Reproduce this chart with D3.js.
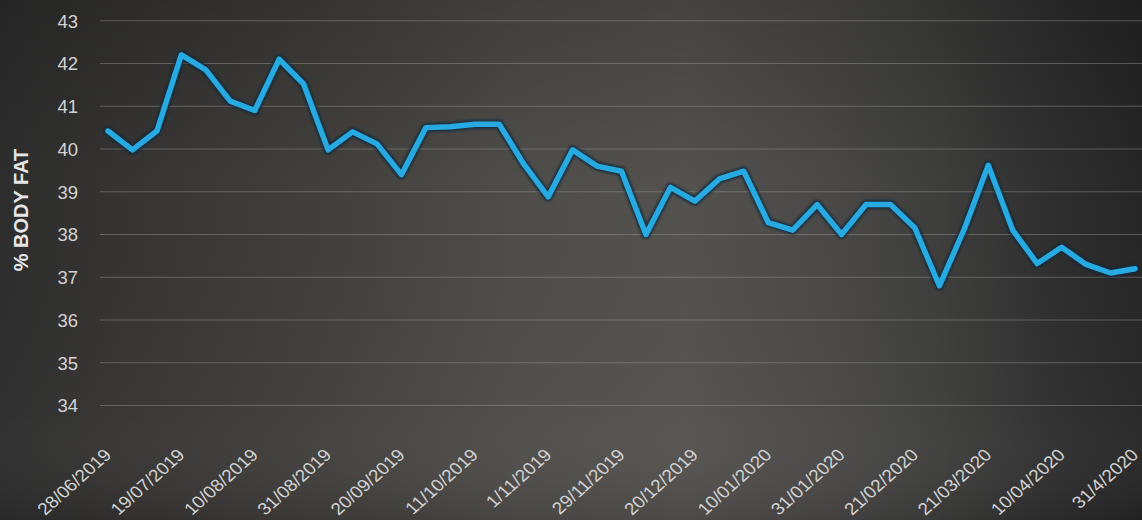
<!DOCTYPE html>
<html>
<head>
<meta charset="utf-8">
<script src="https://cdn.jsdelivr.net/npm/d3@7"></script>
<style>
  html, body { margin: 0; padding: 0; background: #2e2e2e; }
  svg { display: block; }
</style>
</head>
<body>
<svg id="chart" width="1142" height="520"></svg>
<script>
// ---- data ----
const values = [40.42, 39.98, 40.42, 42.2, 41.85, 41.12, 40.9, 42.1, 41.52, 39.98,
  40.4, 40.12, 39.4, 40.5, 40.52, 40.58, 40.58, 39.65, 38.88, 39.98,
  39.6, 39.48, 38.0, 39.1, 38.78, 39.3, 39.48, 38.28, 38.1, 38.7,
  38.0, 38.7, 38.7, 38.15, 36.8, 38.1, 39.62, 38.1, 37.32, 37.7,
  37.3, 37.1, 37.2];
const tickLabels = ["28/06/2019", "19/07/2019", "10/08/2019", "31/08/2019", "20/09/2019",
  "11/10/2019", "1/11/2019", "29/11/2019", "20/12/2019", "10/01/2020",
  "31/01/2020", "21/02/2020", "21/03/2020", "10/04/2020", "31/4/2020"];
const yTicks = [34, 35, 36, 37, 38, 39, 40, 41, 42, 43];
const yTitle = "% BODY FAT";

// ---- layout ----
const W = 1142, H = 520;
const svg = d3.select("#chart");
const defs = svg.append("defs");

const bg = defs.append("linearGradient").attr("id", "bg").attr("x1", 0).attr("x2", 1).attr("y1", 0).attr("y2", 0);
[[0, "#2d2d2d"], [0.12, "#363533"], [0.3, "#42413e"], [0.45, "#4e4d4a"], [0.6, "#53524f"],
 [0.72, "#4a4947"], [0.82, "#3e3e3d"], [0.92, "#2f2f2f"], [1, "#262626"]]
  .forEach(([o, c]) => bg.append("stop").attr("offset", o).attr("stop-color", c));
svg.append("rect").attr("width", W).attr("height", H).attr("fill", "url(#bg)");

const vg = defs.append("linearGradient").attr("id", "vg").attr("x1", 0).attr("x2", 0).attr("y1", 0).attr("y2", 1);
[[0, "#000", 0.18], [0.35, "#000", 0.0], [0.8, "#fff", 0.02], [1, "#000", 0.1]]
  .forEach(([o, c, a]) => vg.append("stop").attr("offset", o).attr("stop-color", c).attr("stop-opacity", a));
svg.append("rect").attr("width", W).attr("height", H).attr("fill", "url(#vg)");

const glow = defs.append("filter").attr("id", "glow").attr("x", "-5%").attr("y", "-10%").attr("width", "110%").attr("height", "120%");
glow.append("feGaussianBlur").attr("stdDeviation", 1.2);

const x = d3.scaleLinear().domain([0, values.length - 1]).range([108, 1135]);
const y = d3.scaleLinear().domain([33, 43]).range([448.25, 20.75]);

// gridlines
svg.append("g").selectAll("line").data(yTicks).join("line")
  .attr("x1", 100).attr("x2", W)
  .attr("y1", d => y(d)).attr("y2", d => y(d))
  .attr("stroke", "#9a9a9a").attr("stroke-opacity", 0.45).attr("stroke-width", 1);

// y axis labels
const yAxis = d3.axisLeft(y).tickValues(yTicks).tickSize(0).tickPadding(0);
const gy = svg.append("g").attr("transform", "translate(78,0)").call(yAxis);
gy.select(".domain").remove();
gy.selectAll("text")
  .attr("fill", "#d2d2d2")
  .style("font-family", "'Liberation Sans', Arial, sans-serif")
  .style("font-size", "18.5px")
  .attr("dy", "0.34em");

// y title
svg.append("text")
  .attr("transform", "translate(28,210) rotate(-90)")
  .attr("text-anchor", "middle")
  .attr("fill", "#e6e6e6")
  .style("font-family", "'Liberation Sans', Arial, sans-serif")
  .style("font-size", "20px")
  .style("font-weight", "bold")
  .text(yTitle);

// x labels
const labelIdx = tickLabels.map((_, i) => i * 3);
const xAxis = d3.axisBottom(x).tickValues(labelIdx).tickFormat((d, i) => tickLabels[i]).tickSize(0).tickPadding(0);
const gx = svg.append("g").attr("transform", "translate(0,448)").call(xAxis);
gx.select(".domain").remove();
gx.selectAll("text")
  .attr("fill", "#d2d2d2")
  .style("font-family", "'Liberation Sans', Arial, sans-serif")
  .style("font-size", "17px")
  .attr("text-anchor", "end")
  .attr("dy", null)
  .attr("y", 0)
  .attr("transform", "translate(4,8) scale(1.12,1) rotate(-45)");

// line
const line = d3.line().x((d, i) => x(i)).y(d => y(d)).curve(d3.curveLinear);
svg.append("path").datum(values)
  .attr("d", line).attr("fill", "none")
  .attr("stroke", "#0f2a3c").attr("stroke-opacity", 0.85)
  .attr("stroke-width", 9).attr("stroke-linejoin", "round").attr("stroke-linecap", "round")
  .attr("filter", "url(#glow)");
svg.append("path").datum(values)
  .attr("d", line).attr("fill", "none")
  .attr("stroke", "#27a9e1")
  .attr("stroke-width", 5.5).attr("stroke-linejoin", "round").attr("stroke-linecap", "round");
</script>
</body>
</html>
